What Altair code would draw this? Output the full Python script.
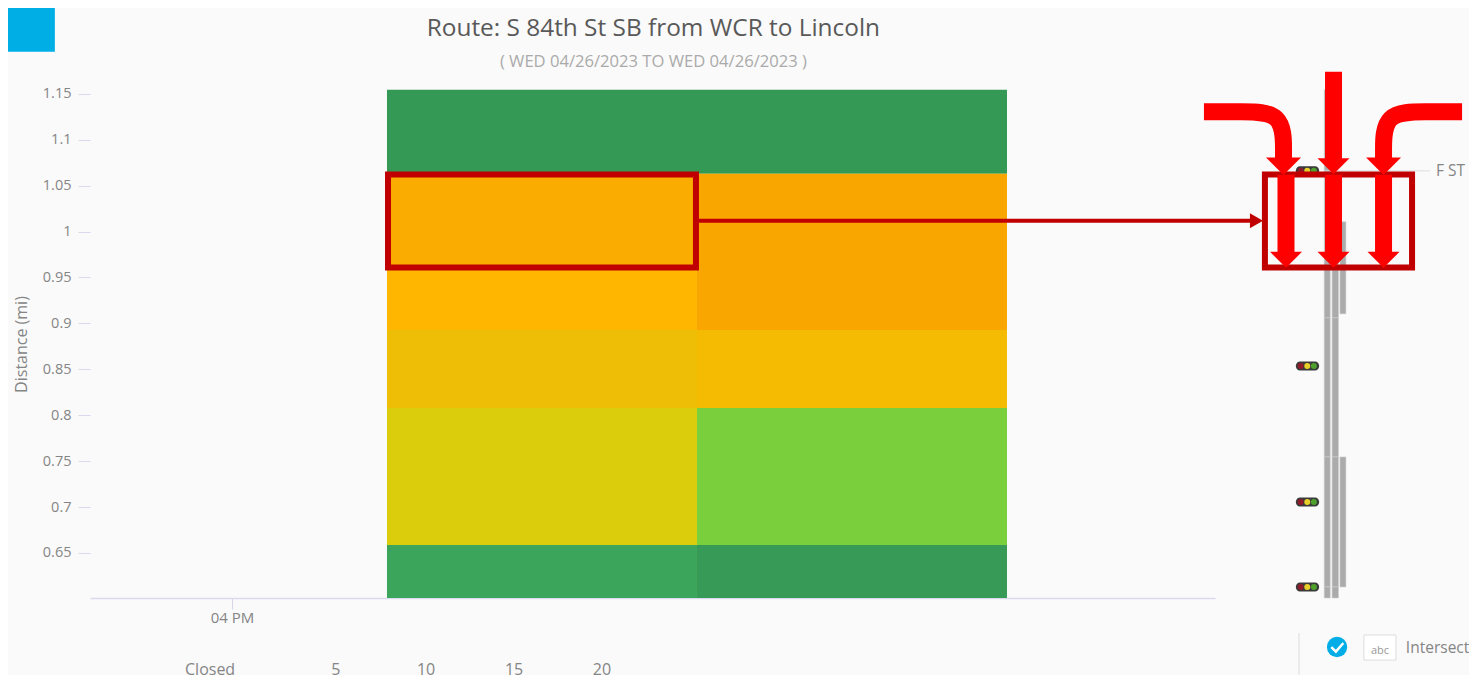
import altair as alt
import pandas as pd

FONT = "Open Sans"
BG = "#FAFAFA"
TXT = "#858585"

# ---- heat map: time in minutes after 04 PM, distance in miles
cell_x = [7.5, 7.5, 7.5, 7.5, 7.5, 7.5, 22.5, 22.5, 22.5, 22.5, 22.5]
cell_x2 = [22.5, 22.5, 22.5, 22.5, 22.5, 22.5, 37.5, 37.5, 37.5, 37.5, 37.5]
cell_y = [1.0629, 0.9583, 0.8929, 0.8080, 0.6587, 0.6010, 1.0629, 0.8929, 0.8080, 0.6587, 0.6010]
cell_y2 = [1.1544, 1.0629, 0.9583, 0.8929, 0.8080, 0.6587, 1.1544, 1.0629, 0.8929, 0.8080, 0.6587]
cell_color = ["#339955", "#FBAC00", "#FFB600", "#EEBD05", "#DCCD0C", "#3BA65B",
              "#339955", "#F9A700", "#F5BB02", "#7ACF3C", "#379A57"]

# ---- y ticks / x tick
y_ticks = [0.65, 0.7, 0.75, 0.8, 0.85, 0.9, 0.95, 1.0, 1.05, 1.1, 1.15]
x_ticks = [0]

# ---- gray occupancy bars on the right
bar_x = [52.85, 52.85, 52.85, 52.85, 53.23, 53.23, 53.23, 53.23, 53.61, 53.61]
bar_x2 = [53.14, 53.14, 53.14, 53.14, 53.54, 53.54, 53.54, 53.54, 53.90, 53.90]
bar_y = [0.9060, 0.7546, 0.6130, 0.6010, 0.9060, 0.7546, 0.6130, 0.6010, 0.9104, 0.6130]
bar_y2 = [1.1544, 0.9060, 0.7546, 0.6130, 1.0106, 0.9060, 0.7546, 0.6130, 1.0106, 0.7546]

# ---- signals
signal_miles = [1.0661, 0.8537, 0.7056, 0.6130]
signal_half = 0.0049
lamp_x = [51.71, 52.03, 52.35]
lamp_color = ["#8E1B2A", "#E9CF2A", "#4FA12D"]

# ---- annotation arrows
arrow_id = ["L"] * 5 + ["R"] * 5 + ["C", "C"]
arrow_x = [47.03, 48.81, 50.88, 50.88, 50.88, 59.52, 57.80, 55.72, 55.72, 55.72, 53.30, 53.30]
arrow_y = [1.1304, 1.1304, 1.1304, 1.0846, 1.0781, 1.1304, 1.1304, 1.1304, 1.0846, 1.0781, 1.1740, 1.0781]
stem_x = [51.00, 53.30, 55.72]
stem_top = [1.0618, 1.0618, 1.0618]
stem_bot = [0.9769, 0.9769, 0.9769]
head_x = [50.88, 53.30, 55.72, 51.00, 53.30, 55.72]
head_y = [1.0710, 1.0710, 1.0710, 0.9692, 0.9692, 0.9692]
head_size = [1225, 1024, 1225, 1024, 1024, 1024]

box_x = [7.55, 49.98]
box_x2 = [22.45, 57.10]
box_top = [1.0621, 1.0621]
box_bot = [0.9608, 0.9608]
link_x, link_x2, link_y = [22.50], [49.40], [1.0117]
link_head_x, link_head_y = [49.57], [1.0117]

# ---- texts
title_text = ["Route: S 84th St SB from WCR to Lincoln", "( WED 04/26/2023 TO WED 04/26/2023 )"]
title_x = [20.39, 20.39]
title_y = [1.2208, 1.1849]
title_size = [24.4, 16.6]
title_color = ["#595959", "#AAAAAA"]
footer = ["Closed", "5", "10", "15", "20"]
footer_x = [-1.06, 5.03, 9.39, 13.65, 17.90]
footer_y = 0.5225

XS = alt.Scale(domain=[-6.87, 47.565], nice=False, zero=False)
YS = alt.Scale(domain=[0.601, 1.165], nice=False, zero=False)
XA = alt.Axis(values=x_ticks, labelExpr="'04 PM'", grid=False, tickSize=11, tickColor="#D6D6E8",
              domainColor="#DADAEE", domainWidth=1.5, labelFont=FONT, labelFontSize=15,
              labelColor=TXT, labelPadding=1, title=None)
YA = alt.Axis(values=y_ticks, format="~g", grid=False, domain=False, tickSize=12, tickColor="#DADAEE",
              labelFont=FONT, labelFontSize=14.5, labelColor=TXT, labelPadding=7,
              title="Distance (mi)", titleFont=FONT, titleFontSize=16, titleFontWeight="normal",
              titleColor=TXT, titleX=-61, titleY=264)


def X(f, **k):
    return alt.X(f, type="quantitative", scale=XS, axis=XA, **k)


def Y(f, **k):
    return alt.Y(f, type="quantitative", scale=YS, axis=YA, **k)


cells = alt.Chart(pd.DataFrame(dict(x=cell_x, x2=cell_x2, y=cell_y, y2=cell_y2, c=cell_color))).mark_rect().encode(
    x=X("x"), x2="x2", y=Y("y"), y2="y2", color=alt.Color("c:N", scale=None))

bars = alt.Chart(pd.DataFrame(dict(x=bar_x, x2=bar_x2, y=bar_y, y2=bar_y2))).mark_rect(
    color="#ABABAB", stroke="#CFCFCF", strokeWidth=0.6).encode(x=X("x"), x2="x2", y=Y("y"), y2="y2")

street = alt.Chart(pd.DataFrame(dict(x=[52.85], x2=[57.97], y=[signal_miles[0]]))).mark_rule(
    color="#DDDDDD", strokeWidth=1).encode(x=X("x"), x2="x2", y=Y("y"))
street_lbl = alt.Chart(pd.DataFrame(dict(x=[58.26], y=[signal_miles[0]], t=["F ST"]))).mark_text(
    align="left", baseline="middle", font=FONT, fontSize=15.5, color=TXT).encode(x=X("x"), y=Y("y"), text="t:N")

pills = alt.Chart(pd.DataFrame(dict(
    x=[51.48] * 4, x2=[52.60] * 4,
    y=[m - signal_half for m in signal_miles], y2=[m + signal_half for m in signal_miles]))).mark_bar(
    color="#3A3A3A", cornerRadius=4).encode(x=X("x"), x2="x2", y=Y("y"), y2="y2")
lamp_rows = [dict(x=x, y=m, c=c) for m in signal_miles for x, c in zip(lamp_x, lamp_color)]
lamps = alt.Chart(pd.DataFrame(lamp_rows)).mark_point(filled=True, size=36, opacity=1, shape="circle").encode(
    x=X("x"), y=Y("y"), color=alt.Color("c:N", scale=None))

# blue square top-left
square = alt.Chart(pd.DataFrame(dict(x=[-10.84], x2=[-8.57], y=[1.1958], y2=[1.2459]))).mark_rect(
    color="#00AEE6").encode(x=X("x"), x2="x2", y=Y("y"), y2="y2")

# title and footer
titles = alt.Chart(pd.DataFrame(dict(x=title_x, y=title_y, t=title_text, s=title_size, c=title_color))).mark_text(
    font=FONT, baseline="middle").encode(
    x=X("x"), y=Y("y"), text="t:N", size=alt.Size("s:Q", scale=None), color=alt.Color("c:N", scale=None))
foot = alt.Chart(pd.DataFrame(dict(x=footer_x, y=[footer_y] * 5, t=footer))).mark_text(
    font=FONT, fontSize=16, color=TXT, baseline="middle").encode(x=X("x"), y=Y("y"), text="t:N")

divider = alt.Chart(pd.DataFrame(dict(x=[51.63], y=[0.5629], y2=[0.5171]))).mark_rule(color="#DDDDDD").encode(
    x=X("x"), y=Y("y"), y2="y2")
badge = alt.Chart(pd.DataFrame(dict(x=[53.47], y=[0.5476]))).mark_point(
    filled=True, size=415, color="#00ADE6", opacity=1, shape="circle").encode(x=X("x"), y=Y("y"))
check = alt.Chart(pd.DataFrame(dict(x=[53.47], y=[0.5476]))).mark_point(
    filled=False, size=529, color="white", strokeWidth=2.5, opacity=1,
    shape="M-0.5,0 L-0.1,0.4 L0.55,-0.35").encode(x=X("x"), y=Y("y"))
abc_box = alt.Chart(pd.DataFrame(dict(x=[54.77], x2=[56.32], y=[0.5334], y2=[0.5607]))).mark_rect(
    fill="#FFFFFF", stroke="#DDDDDD").encode(x=X("x"), x2="x2", y=Y("y"), y2="y2")
abc = alt.Chart(pd.DataFrame(dict(x=[55.55], y=[0.5432], t=["abc"]))).mark_text(
    font=FONT, fontSize=11, color="#999999", baseline="middle").encode(x=X("x"), y=Y("y"), text="t:N")
inter = alt.Chart(pd.DataFrame(dict(x=[56.80], y=[0.5465], t=["Intersection"]))).mark_text(
    font=FONT, fontSize=15.5, color=TXT, align="left", baseline="middle").encode(x=X("x"), y=Y("y"), text="t:N")

# annotations
boxes = alt.Chart(pd.DataFrame(dict(x=box_x, x2=box_x2, y=box_bot, y2=box_top))).mark_rect(
    fill="transparent", stroke="#C00000", strokeWidth=6).encode(x=X("x"), x2="x2", y=Y("y"), y2="y2")
link = alt.Chart(pd.DataFrame(dict(x=link_x, x2=link_x2, y=link_y))).mark_rule(
    color="#C00000", strokeWidth=4).encode(x=X("x"), x2="x2", y=Y("y"))
link_head = alt.Chart(pd.DataFrame(dict(x=link_head_x, y=link_head_y))).mark_point(
    filled=True, color="#C00000", size=225, opacity=1, shape="M-0.87,-1 L0.87,0 L-0.87,1 Z").encode(
    x=X("x"), y=Y("y"))

arrow_df = pd.DataFrame(dict(g=arrow_id, x=arrow_x, y=arrow_y, o=list(range(len(arrow_id)))))
bends = alt.Chart(arrow_df).mark_line(color="#FF0000", strokeWidth=17, interpolate="basis", strokeCap="butt").encode(
    x=X("x"), y=Y("y"), detail="g:N", order="o:Q")
stems = alt.Chart(pd.DataFrame(dict(x=stem_x, y=stem_bot, y2=stem_top))).mark_rule(
    color="#FF0000", strokeWidth=17).encode(x=X("x"), y=Y("y"), y2="y2")
heads = alt.Chart(pd.DataFrame(dict(x=head_x, y=head_y, s=head_size))).mark_point(
    filled=True, color="#FF0000", opacity=1, shape="M-1,-0.5 L1,-0.5 L0,0.5 Z").encode(
    x=X("x"), y=Y("y"), size=alt.Size("s:Q", scale=None))

chart = alt.layer(
    cells, bars, street, street_lbl, pills, lamps, square, titles, foot, divider, badge, check, abc_box, abc, inter,
    boxes, link, link_head, bends, stems, heads,
).properties(
    width=1125, height=518,
    autosize=alt.AutoSizeParams(type="none"),
    padding={"left": 82, "top": 72, "right": 254, "bottom": 77},
    background=BG,
).configure_view(stroke=None)

chart.save("out.html", embed_options={"renderer": "svg", "actions": False})
